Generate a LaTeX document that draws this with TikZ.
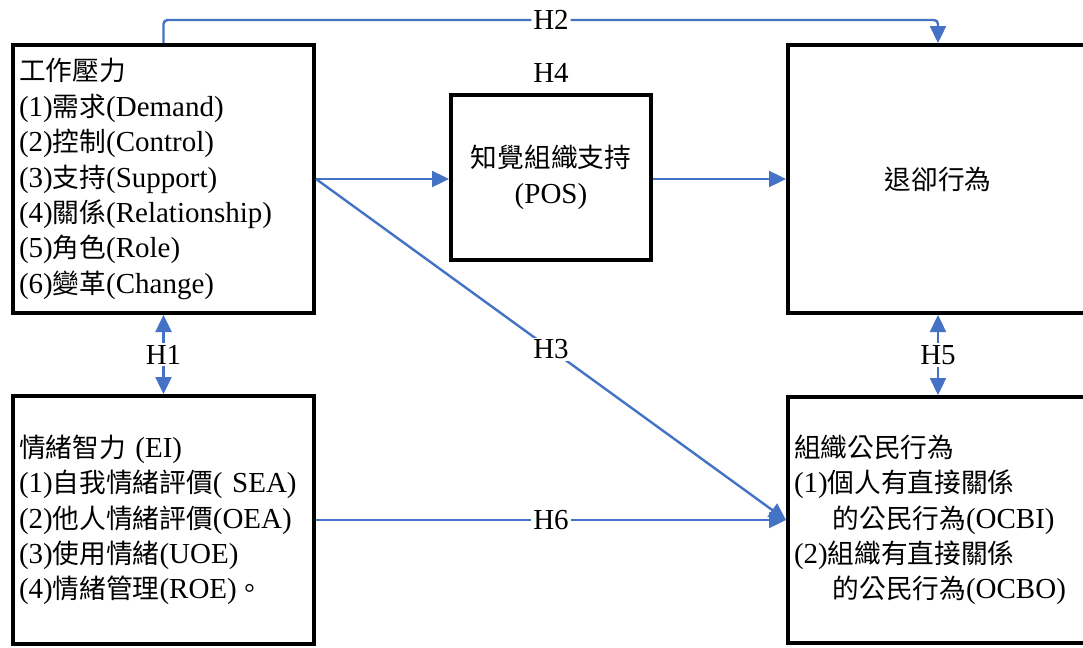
\documentclass[tikz,border=0pt]{standalone}
\usepackage{fontspec}
\setmainfont{Liberation Serif}
\newfontfamily\cjk[Scale=0.92]{Noto Sans CJK TC}
\newcommand{\zw}[1]{{\cjk #1}}
\usetikzlibrary{arrows.meta}
\definecolor{linkblue}{RGB}{68,114,196}
\tikzset{
  box/.style={draw,line width=2pt,inner xsep=3pt,inner ysep=0pt},
  link/.style={draw=linkblue,line width=1.2pt},
  hlab/.style={fill=white,inner sep=1pt}
}
\begin{document}
\begin{tikzpicture}[x=0.5pt,y=-0.5pt,>={Triangle[width=8pt,length=8.5pt]},
  font=\fontsize{14.5}{17.7}\selectfont]
  \useasboundingbox (0,0) rectangle (1083,648);
  % boxes
  \node[box,text width=144.5pt,align=left,minimum width=150.5pt,minimum height=134pt] (stress) at (163.5,179)
    {\zw{工作壓力}\\(1)\zw{需求}(Demand)\\(2)\zw{控制}(Control)\\(3)\zw{支持}(Support)\\(4)\zw{關係}(Relationship)\\(5)\zw{角色}(Role)\\(6)\zw{變革}(Change)};
  \node[box,align=center,minimum width=100pt,minimum height=82.5pt] (pos) at (551,177.5)
    {\zw{知覺組織支持}\\(POS)};
  \node[box,align=center,minimum width=150pt,minimum height=134pt] (withdraw) at (938,179)
    {\zw{退卻行為}};
  \node[box,text width=144.5pt,align=left,minimum width=150.5pt,minimum height=124pt] (ei) at (163.5,520)
    {\zw{情緒智力} (EI)\\(1)\zw{自我情緒評價}( SEA)\\(2)\zw{他人情緒評價}(OEA)\\(3)\zw{使用情緒}(UOE)\\(4)\zw{情緒管理}(ROE)\zw{。}};
  \node[box,text width=144pt,align=left,minimum width=150pt,minimum height=123pt] (ocb) at (938,520)
    {\zw{組織公民行為}\\(1)\zw{個人有直接關係}\\\hphantom{(1)}\,\zw{的公民行為}(OCBI)\\(2)\zw{組織有直接關係}\\\hphantom{(1)}\,\zw{的公民行為}(OCBO)};
  % hypotheses
  \coordinate (top) at (551,20);
  \draw[link,->,rounded corners=2pt] (stress.north) |- (top) node[hlab] {H2} -| (withdraw.north);
  \node (h4) at (551,73) {H4};
  \draw[link,->] (stress.east) -- (stress.east -| pos.west);
  \draw[link,->] (stress.east -| pos.east) -- (stress.east -| withdraw.west);
  \draw[link,->] (stress.east) -- (ocb.west) node[hlab,pos=0.5] {H3};
  \draw[link,->] (ei.east) -- (ocb.west) node[hlab,pos=0.5] {H6};
  \draw[link,<->] (stress.south) -- (ei.north) node[hlab,pos=0.5] {H1};
  \draw[link,<->] (withdraw.south) -- (ocb.north) node[hlab,pos=0.5] {H5};
\end{tikzpicture}
\end{document}
